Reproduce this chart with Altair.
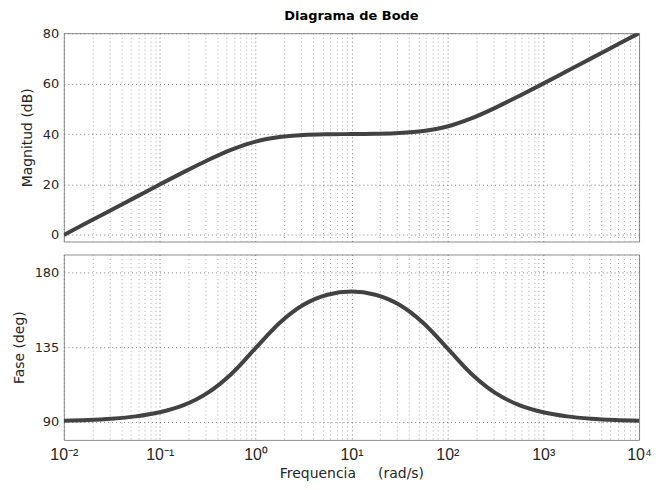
import altair as alt
import pandas as pd

# Frequency samples (rad/s) and values
freq = [0.01, 0.01778, 0.03162, 0.05623, 0.1, 0.1778, 0.3162, 0.5623, 1, 1.778,
        3.162, 5.623, 10, 17.78, 31.62, 56.23, 100, 177.8, 316.2, 562.3,
        1000, 1778, 3162, 5623, 10000]
mag_db = [0.0, 5.0, 10.0, 15.0, 20.0, 24.9, 29.6, 33.8, 37.0, 38.8,
          39.6, 39.9, 40.0, 40.1, 40.4, 41.2, 43.0, 46.2, 50.4, 55.1,
          60.0, 65.0, 70.0, 75.0, 80.0]
phase_deg = [90.6, 91.0, 91.8, 93.2, 95.7, 100.0, 107.4, 119.0, 134.4, 149.6,
             160.6, 166.7, 168.6, 166.7, 160.6, 149.6, 134.4, 119.0, 107.4, 100.0,
             95.7, 93.2, 91.8, 91.0, 90.6]

decades = [0.01, 0.1, 1, 10, 100, 1000, 10000]
decade_labels = ["10\u207b\u00b2", "10\u207b\u00b9", "10\u2070", "10\u00b9",
                 "10\u00b2", "10\u00b3", "10\u2074"]
mag_ticks = [0, 20, 40, 60, 80]
phase_ticks = [90, 135, 180]

grid_vals = []
for d in decades[:-1]:
    for m in range(1, 10):
        grid_vals.append(round(m * d, 6))
grid_vals.append(10000)

df = pd.DataFrame({"w": freq, "mag": mag_db, "phase": phase_deg})

FONT = "DejaVu Sans"
TXT = "#262626"
LINE = "#424242"

label_expr = " : ".join(
    f"abs(datum.value - {v}) < {v * 1e-4} ? '{lab}'" for v, lab in zip(decades, decade_labels)
) + " : ''"

grid_color = alt.condition(
    "abs(log(datum.value)/LN10 - round(log(datum.value)/LN10)) < 0.001",
    alt.value("#7a7a7a"), alt.value("#a8a8a8"))

xscale = alt.Scale(type="log", domain=[0.01, 10000], nice=False)
W = 577

top = alt.Chart(df).mark_line(color=LINE, strokeWidth=4, interpolate="monotone", clip=True).encode(
    x=alt.X("w:Q", scale=xscale,
            axis=alt.Axis(values=grid_vals, labels=False, ticks=False, domain=False, title=None,
                          grid=True, gridDash=[1, 3], gridColor=grid_color)),
    y=alt.Y("mag:Q", scale=alt.Scale(domain=[-2.6, 80], nice=False, zero=False),
            axis=alt.Axis(values=mag_ticks, title="Magnitud (dB)", grid=True, gridDash=[1, 3],
                          gridColor="#7a7a7a", ticks=False, domain=False, labelPadding=5,
                          labelFont=FONT, labelFontSize=13, labelColor=TXT,
                          titleFont=FONT, titleFontSize=14, titleFontWeight="normal",
                          titleColor=TXT, titlePadding=8)),
).properties(width=W, height=209,
             title=alt.TitleParams("Diagrama de Bode", font=FONT, fontSize=13,
                                   fontWeight="bold", color="#000000", offset=4.5,
                                   frame="group"))

bottom = alt.Chart(df).mark_line(color=LINE, strokeWidth=4, interpolate="monotone", clip=True).encode(
    x=alt.X("w:Q", scale=xscale,
            axis=alt.Axis(values=grid_vals, labelExpr=label_expr, labelOverlap=False,
                          labelFlush=False, ticks=False, domain=False,
                          title="Frequencia\u00a0\u00a0\u00a0\u00a0\u00a0(rad/s)",
                          grid=True, gridDash=[1, 3], gridColor=grid_color,
                          labelFont="Liberation Sans", labelFontSize=16, labelColor=TXT,
                          labelPadding=7,
                          titleFont=FONT, titleFontSize=14, titleFontWeight="normal",
                          titleColor=TXT, titlePadding=4)),
    y=alt.Y("phase:Q", scale=alt.Scale(domain=[79, 191], nice=False, zero=False),
            axis=alt.Axis(values=phase_ticks, title="Fase (deg)", grid=True, gridDash=[1, 3],
                          gridColor="#7a7a7a", ticks=False, domain=False, labelPadding=5,
                          labelFont=FONT, labelFontSize=13, labelColor=TXT,
                          titleFont=FONT, titleFontSize=14, titleFontWeight="normal",
                          titleColor=TXT, titlePadding=8)),
).properties(width=W, height=186)

chart = alt.vconcat(top, bottom, spacing=11).properties(
    padding={"left": 3, "top": 0.5, "right": 0, "bottom": 0},
    background="white",
).configure_view(stroke="#8c8c8c", strokeWidth=1)

chart.save("out.html", embed_options={"renderer": "svg", "actions": False})
